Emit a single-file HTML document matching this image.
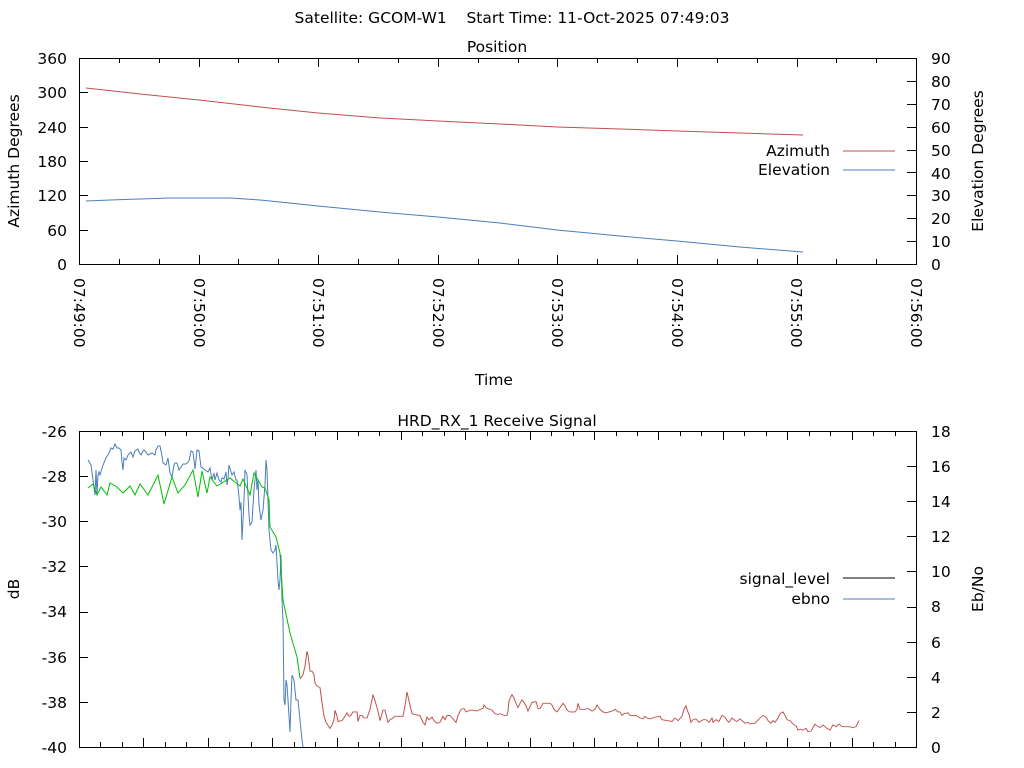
<!DOCTYPE html>
<html><head><meta charset="utf-8"><style>
html,body{margin:0;padding:0;background:#fff;}
svg{display:block;font-family:"DejaVu Sans","Liberation Sans",sans-serif;font-size:15.5px;}
</style></head><body>
<svg id="s" width="1024" height="768" viewBox="0 0 1024 768" xmlns="http://www.w3.org/2000/svg">
<rect width="1024" height="768" fill="#fff"/>
<text x="512" y="23" text-anchor="middle" font-size="15.5" xml:space="preserve">Satellite: GCOM-W1    Start Time: 11-Oct-2025 07:49:03</text>
<text x="497" y="52" text-anchor="middle">Position</text>
<text x="497" y="426" text-anchor="middle">HRD_RX_1 Receive Signal</text>
<rect x="79.5" y="58.5" width="837" height="206" fill="none" stroke="#000" stroke-width="1"/>
<g text-anchor="end">
<text x="67" y="64">360</text><text x="67" y="98">300</text><text x="67" y="133">240</text><text x="67" y="167">180</text><text x="67" y="201">120</text><text x="67" y="236">60</text><text x="67" y="270">0</text>
</g>
<g>
<text x="931" y="64">90</text><text x="931" y="87">80</text><text x="931" y="110">70</text><text x="931" y="133">60</text><text x="931" y="156">50</text><text x="931" y="179">40</text><text x="931" y="201">30</text><text x="931" y="224">20</text><text x="931" y="247">10</text><text x="931" y="270">0</text>
</g>
<text transform="translate(19,161) rotate(-90)" text-anchor="middle">Azimuth Degrees</text>
<text transform="translate(983,161) rotate(-90)" text-anchor="middle">Elevation Degrees</text>
<g>
<text transform="translate(74,278) rotate(90)">07:49:00</text>
<text transform="translate(194,278) rotate(90)">07:50:00</text>
<text transform="translate(313,278) rotate(90)">07:51:00</text>
<text transform="translate(433,278) rotate(90)">07:52:00</text>
<text transform="translate(552,278) rotate(90)">07:53:00</text>
<text transform="translate(672,278) rotate(90)">07:54:00</text>
<text transform="translate(791,278) rotate(90)">07:55:00</text>
<text transform="translate(911,278) rotate(90)">07:56:00</text>
</g>
<text x="494" y="385" text-anchor="middle">Time</text>
<g text-anchor="end"><text x="830" y="156">Azimuth</text><text x="830" y="175">Elevation</text></g>
<line x1="843" y1="151" x2="895" y2="151" stroke="#c0504d"/>
<line x1="843" y1="170" x2="895" y2="170" stroke="#4a7ebb"/>
<polyline fill="none" stroke="#c0504d" stroke-width="1" points="86,88 140,94 199,100 260,107 318,113 380,118 438,121 500,124 557,127 620,129 677,131 740,133 803,135"/>
<polyline fill="none" stroke="#4a7ebb" stroke-width="1" points="86,201 110,200 140,199 170,198 230,198 260,200 280,202 318,206 380,212 438,217 500,223 557,230 620,236 677,241 740,247 803,252"/>
<rect x="79.5" y="431.5" width="837" height="316" fill="none" stroke="#000" stroke-width="1"/>
<g text-anchor="end">
<text x="67" y="437">-26</text><text x="67" y="482">-28</text><text x="67" y="527">-30</text><text x="67" y="572">-32</text><text x="67" y="617">-34</text><text x="67" y="663">-36</text><text x="67" y="708">-38</text><text x="67" y="753">-40</text>
</g>
<g>
<text x="931" y="437">18</text><text x="931" y="472">16</text><text x="931" y="507">14</text><text x="931" y="542">12</text><text x="931" y="577">10</text><text x="931" y="612">8</text><text x="931" y="648">6</text><text x="931" y="683">4</text><text x="931" y="718">2</text><text x="931" y="753">0</text>
</g>
<text transform="translate(19,589) rotate(-90)" text-anchor="middle">dB</text>
<text transform="translate(983,589) rotate(-90)" text-anchor="middle">Eb/No</text>
<g text-anchor="end"><text x="830" y="584">signal_level</text><text x="830" y="604">ebno</text></g>
<line x1="843" y1="578" x2="895" y2="578" stroke="#000"/>
<line x1="843" y1="599" x2="895" y2="599" stroke="#4a7ebb"/>
<g transform="translate(0,640) scale(1,0.8667) translate(0,-640)">
<polyline fill="none" stroke="#c0504d" stroke-width="1" points="300,685 303,680 305,670 307,653 308,657 310,676 312,676 314,680 315,690 317,693 320,695 322,712 324,728 326,735 330,742 332,738 334,732 335,721 337,728 338,734 342,733 345,728 347,724 349,728 351,727 353,723 357,723 358,734 360,727 362,727 364,730 367,730 370,720 373,703 375,710 378,722 380,733 383,721 385,721 388,735 390,732 393,730 395,728 403,728 405,716 407,700 410,715 412,725 415,726 420,727 423,735 425,738 427,729 429,732 432,729 434,733 437,736 440,735 443,728 445,732 447,727 450,727 453,731 456,735 458,727 461,720 464,719 466,723 470,721 473,721 477,722 480,720 483,719 484,715 487,719 490,720 492,721 495,725 498,726 500,725 502,726 504,727 507,727 508,722 509,710 512,703 514,707 516,713 518,718 520,713 522,709 524,712 526,716 528,722 530,717 532,712 536,711 538,719 540,719 543,713 545,713 548,713 550,713 552,715 554,720 557,723 560,718 563,713 565,716 567,721 570,723 575,723 577,720 578,713 580,720 582,720 585,720 588,719 592,722 595,720 597,715 600,720 603,723 606,724 609,723 612,722 615,720 618,723 620,723 622,727 624,725 628,724 630,727 636,727 640,730 643,731 645,728 647,730 650,731 655,729 660,728 662,732 667,733 672,734 675,730 678,733 682,728 684,720 686,716 687,720 689,726 691,735 693,732 696,731 699,735 703,732 706,732 709,735 712,730 713,735 716,732 719,734 722,727 725,729 727,733 729,735 732,730 735,733 737,734 740,731 745,736 748,735 750,737 755,736 760,730 763,727 766,729 768,733 771,736 773,733 775,735 778,730 780,725 783,723 785,727 787,732 790,733 793,737 796,739 798,744 800,743 803,744 806,742 808,746 811,745 815,737 817,739 820,741 823,738 827,742 830,744 833,738 836,740 839,737 842,740 845,740 849,740 853,741 856,740 858,735 859,733"/>
</g>
<polyline fill="none" stroke="#4a7ebb" stroke-width="1" points="88,460 91,465 93,480 95,495 96,470 97,495 98,475 99,472 100,475 103,465 106,458 109,453 111,448 113,449 115,444 117,448 119,448 121,450 122,462 123,470 124,458 126,460 128,455 131,452 133,457 135,451 138,449 139,452 141,455 143,451 144,450 146,452 148,455 150,454 152,453 155,455 156,450 158,446 160,446 162,456 163,463 166,465 168,458 170,473 172,477 174,465 175,463 177,463 179,470 181,467 183,464 186,464 189,461 191,451 193,452 195,469 197,450 199,451 201,467 203,468 205,470 208,472 210,468 212,480 214,473 215,480 217,473 219,480 221,482 222,478 224,479 226,472 227,485 228,479 229,465 232,475 234,472 236,480 237,480 238,487 239,497 240,510 241,502 242,540 243,520 244,500 245,470 247,475 248,495 249,515 250,525 252,522 254,490 256,470 257,490 258,480 259,505 261,520 263,510 265,485 266,460 267,470 269,530 271,550 273,553 275,550 276,545 278,580 279,590 280,580 281,555 282,600 283,620 284,700 285,705 286,680 287,685 288,700 290,732 291,700 292,675 294,680 296,700 298,700 300,720 302,740 303,747"/>
<polyline fill="none" stroke="#00c000" stroke-width="1" points="88,488 93,484 97,495 101,487 107,495 110,483 117,487 123,493 130,486 135,495 140,484 148,495 158,475 164,504 172,477 178,493 185,485 193,470 198,497 202,471 207,493 210,477 217,486 230,478 240,486 243,479 250,495 254,473 262,487 265,488 269,500 270,527 276,537 280,553 283,600 290,633 297,657 300,678"/>
<path id="ticks" fill="none" stroke="#000" stroke-width="1" d=""/>
</svg>
<script>
var d="";
for(var k=0;k<=21;k++){var x=Math.round(79+k*119.6/3)+0.5;var L=(k%3==0)?9:5;d+="M"+x+" 264v-"+L+"M"+x+" 58v"+L;}
for(var k=0;k<=6;k++){var y=Math.round(264-k*206/6)+0.5;d+="M79 "+y+"h9";}
for(var k=0;k<=9;k++){var y=Math.round(264-k*206/9)+0.5;d+="M916 "+y+"h-9";}
for(var k=0;k<=39;k++){var x=Math.round(79+k*837/39)+0.5;var L=(k%3==0)?9:5;d+="M"+x+" 747v-"+L+"M"+x+" 431v"+L;}
for(var k=0;k<=7;k++){var y=Math.round(747-k*316/7)+0.5;d+="M79 "+y+"h9";}
for(var k=0;k<=9;k++){var y=Math.round(747-k*316/9)+0.5;d+="M916 "+y+"h-9";}
document.getElementById("ticks").setAttribute("d",d);
</script>
</body></html>
